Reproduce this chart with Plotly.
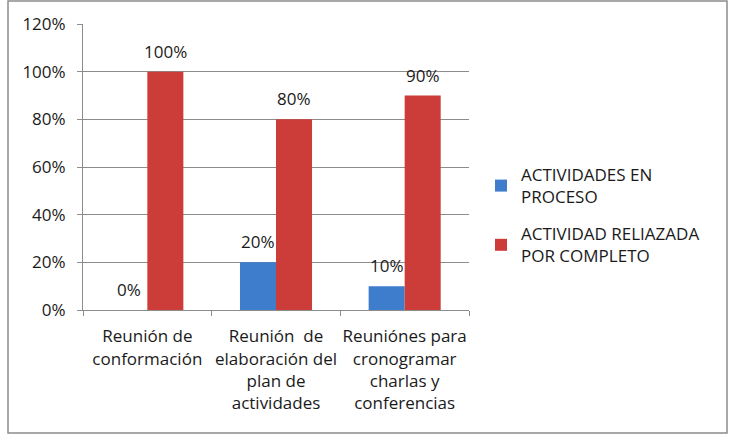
import plotly.graph_objects as go

categories = [
    "Reunión de<br>conformación",
    "Reunión  de<br>elaboración del<br>plan de<br>actividades",
    "Reuniónes para<br>cronogramar<br>charlas y<br>conferencias",
]
en_proceso = [0, 0.20, 0.10]
completo = [1.00, 0.80, 0.90]
series_names = ["ACTIVIDADES EN<br>PROCESO", "ACTIVIDAD RELIAZADA<br>POR COMPLETO"]
y_ticks = [0, 0.2, 0.4, 0.6, 0.8, 1.0, 1.2]

FONT = "Open Sans"
FS = 17
TXT = "#1a1a1a"
fig = go.Figure()
fig.add_trace(go.Bar(
    x=categories, y=en_proceso, name=series_names[0], legendgroup="a",
    marker=dict(color="#3D7DCB", line=dict(width=0)),
))
fig.add_trace(go.Bar(
    x=categories, y=completo, name=series_names[1], legendgroup="b",
    marker=dict(color="#CC3C38", line=dict(width=0)),
))

# value labels above the bars
for vals, shift in ((en_proceso, -18), (completo, 18)):
    for c, v in zip(categories, vals):
        fig.add_annotation(x=c, y=v, text=f"{v:.0%}", showarrow=False,
                           xshift=shift, yshift=7, yanchor="bottom",
                           font=dict(family=FONT, size=FS, color=TXT))

W, H = 731, 436
L, R, T, B = 83, 469, 24, 310
pw, ph = R - L, B - T
def px(x): return (x - L) / pw
def py(y): return (B - y) / ph

fig.update_layout(
    width=W, height=H,
    margin=dict(l=L, r=W - R, t=T, b=H - B, autoexpand=False),
    paper_bgcolor="white", plot_bgcolor="white",
    barmode="group", bargap=0.44, bargroupgap=0,
    font=dict(family=FONT, size=FS, color=TXT),
    showlegend=True,
    legend=dict(x=px(481), y=py(157), xanchor="left", yanchor="top",
                font=dict(family=FONT, size=FS, color=TXT),
                tracegroupgap=12, itemwidth=30, bgcolor="rgba(0,0,0,0)"),
)
fig.update_yaxes(
    range=[0, 1.2], tickvals=y_ticks, tickformat=".0%",
    showgrid=True, gridcolor="#8C8C8C", gridwidth=1,
    showline=True, linecolor="#8C8C8C", linewidth=1,
    ticks="outside", ticklen=5, tickcolor="#8C8C8C",
    ticklabelstandoff=8, zeroline=False,
    tickfont=dict(family=FONT, size=FS, color=TXT),
)
fig.update_xaxes(
    showline=True, linecolor="#8C8C8C", linewidth=1,
    ticks="outside", ticklen=5, tickcolor="#8C8C8C", tickson="boundaries",
    ticklabelstandoff=11,
    tickfont=dict(family=FONT, size=FS, color=TXT), tickangle=0,
)
fig.add_shape(type="rect", xref="paper", yref="paper",
              x0=px(8), x1=px(727), y0=py(433), y1=py(1),
              line=dict(color="#8C8C8C", width=1.5), layer="below")
fig.write_html("out.html")
